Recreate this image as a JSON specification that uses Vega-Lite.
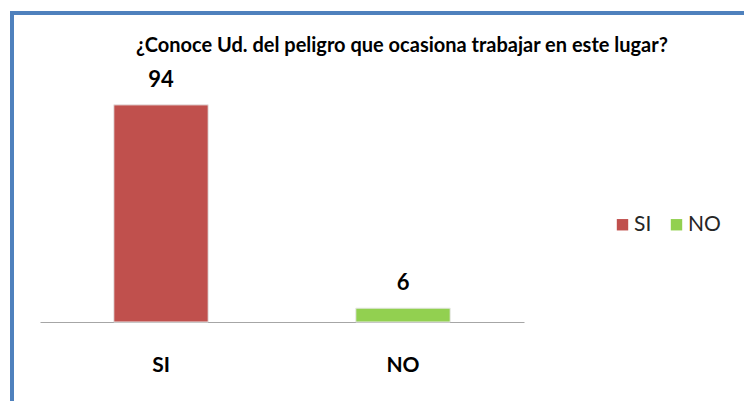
{
  "$schema": "https://vega.github.io/schema/vega-lite/v6.json",
  "width": 732,
  "height": 388,
  "autosize": {"type": "none"},
  "padding": {"left": 12, "top": 13, "right": 0, "bottom": 0},
  "background": "white",
  "config": {
    "view": {"stroke": "#4F81BD", "strokeWidth": 4, "strokeDash": [732, 1120, 388]},
    "font": "Lato"
  },
  "title": {
    "text": "¿Conoce Ud. del peligro que ocasiona trabajar en este lugar?",
    "fontSize": 20,
    "fontWeight": "bold",
    "color": "#000000",
    "baseline": "middle",
    "offset": 0,
    "dy": 53,
    "dx": 24,
    "anchor": "middle",
    "frame": "group"
  },
  "data": {
    "values": [
      {"respuesta": "SI", "valor": 94},
      {"respuesta": "NO", "valor": 6}
    ]
  },
  "encoding": {
    "x": {
      "field": "respuesta",
      "type": "nominal",
      "sort": ["SI", "NO"],
      "scale": {"range": [28, 512], "paddingInner": 0.61, "paddingOuter": 0.305},
      "axis": {
        "title": null,
        "offset": -79,
        "labelAngle": 0,
        "ticks": false,
        "tickSize": 0,
        "domainColor": "#A6A6A6",
        "domainWidth": 1,
        "labelFontSize": 21,
        "labelFontWeight": "bold",
        "labelColor": "#000000",
        "labelPadding": 43,
        "labelBaseline": "middle"
      }
    },
    "y": {
      "field": "valor",
      "type": "quantitative",
      "scale": {"domain": [0, 100], "range": [309, 78], "nice": false, "zero": true},
      "axis": null
    }
  },
  "layer": [
    {
      "mark": {"type": "bar", "stroke": "#E8E8E8", "strokeWidth": 1},
      "encoding": {
        "color": {
          "field": "respuesta",
          "type": "nominal",
          "scale": {"domain": ["SI", "NO"], "range": ["#C0504D", "#92D050"]},
          "legend": {
            "orient": "none",
            "legendX": 600,
            "legendY": 201,
            "direction": "horizontal",
            "title": null,
            "symbolType": "square",
            "symbolSize": 130,
            "symbolStrokeWidth": 0,
            "labelFontSize": 21,
            "labelColor": "#262626",
            "labelOffset": 1,
            "columnPadding": 14,
            "padding": 0
          }
        }
      }
    },
    {
      "mark": {"type": "text", "dy": -25, "fontSize": 22, "fontWeight": "bold", "baseline": "middle", "color": "#000000"},
      "encoding": {"text": {"field": "valor", "type": "quantitative"}}
    }
  ]
}
